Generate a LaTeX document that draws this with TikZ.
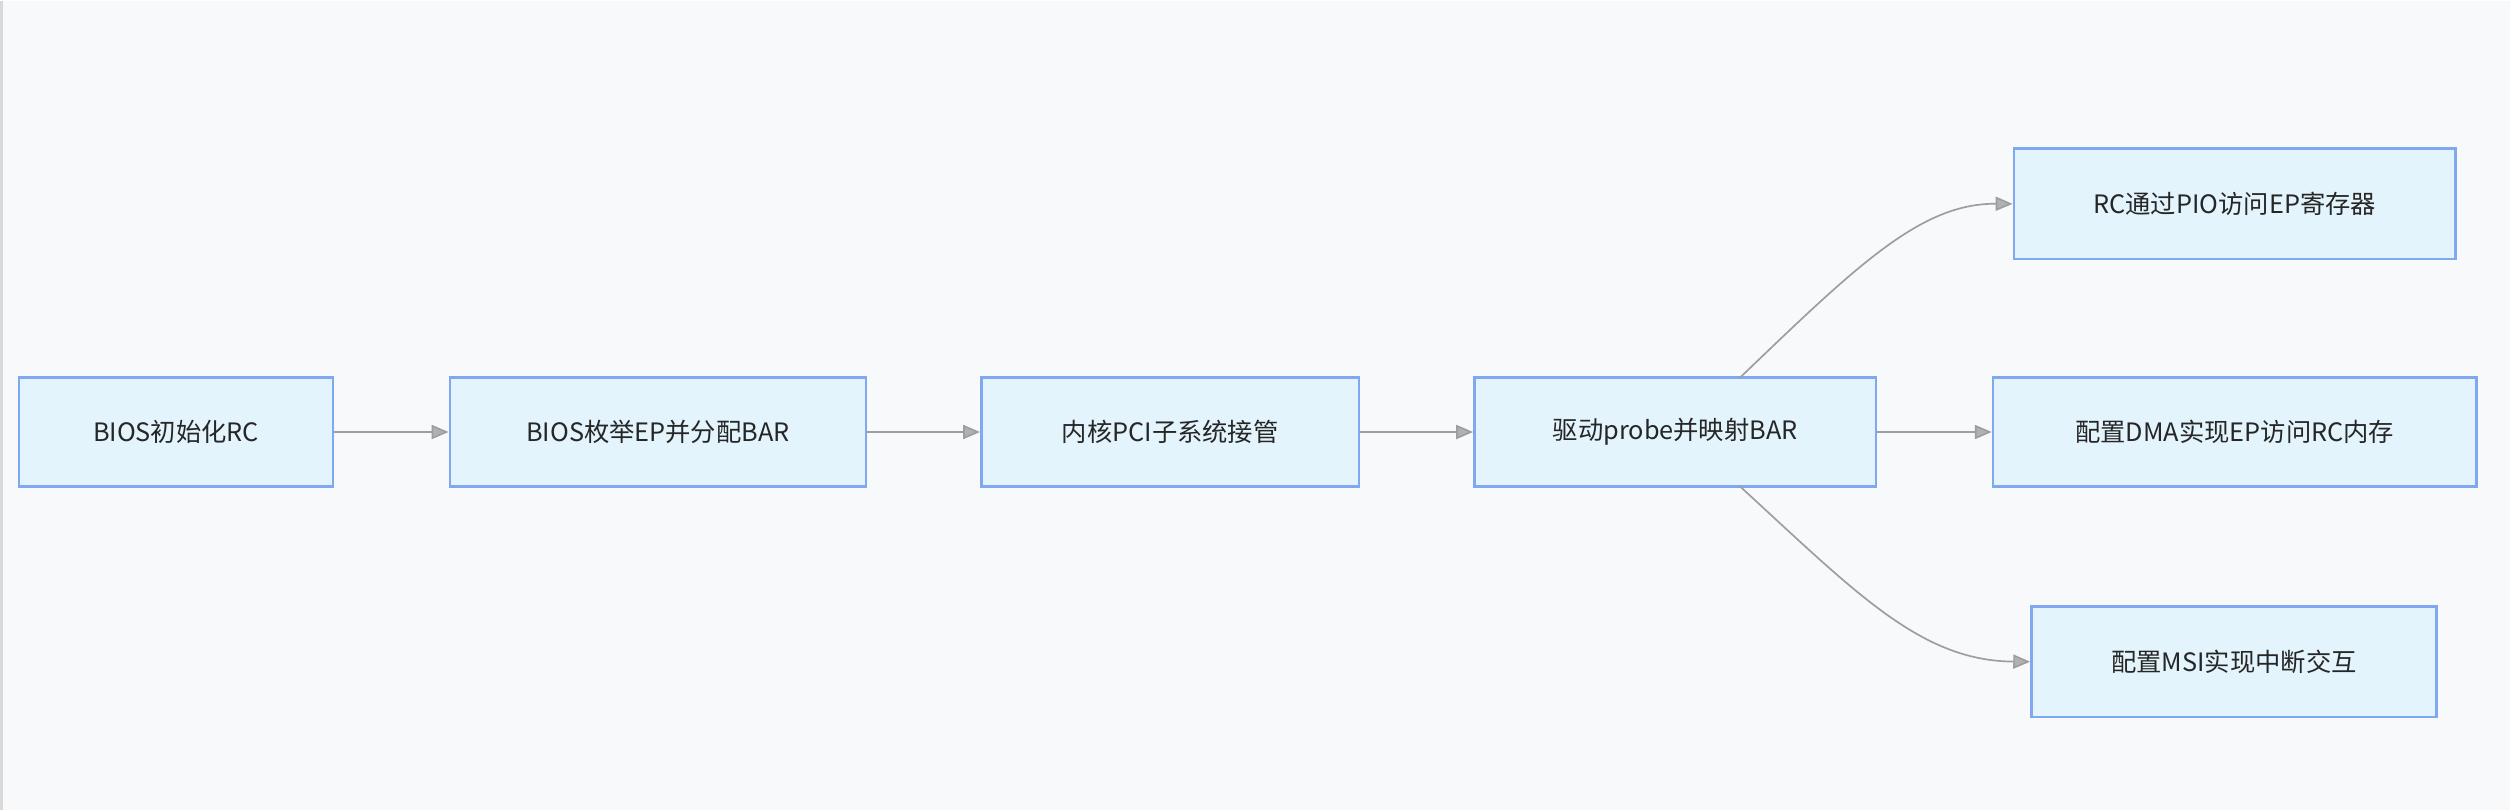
\documentclass[tikz,border=0pt]{standalone}
\usepackage{fontspec}
\setmainfont{Noto Sans CJK SC}
\usetikzlibrary{arrows.meta}
\definecolor{bg}{HTML}{F8F9FB}
\definecolor{bx}{HTML}{E3F4FD}
\definecolor{bd}{HTML}{7FA8F0}
\definecolor{ln}{HTML}{9E9E9E}
\begin{document}
\begin{tikzpicture}[x=0.02cm,y=-0.02cm,
  box/.style={draw=bd,fill=bx,line width=0.9pt,inner sep=0pt,font=\fontsize{9}{11}\selectfont,text=black!85},
  con/.style={draw=ln,line width=0.6pt,-{Triangle[length=6pt,width=5pt,fill=ln!80]}}]
\fill[bg] (0,0) rectangle (1568,505);
\draw[black!15,line width=1pt] (1,0) -- (1,505);
\useasboundingbox (0,0) rectangle (1568,505);
\node[box,minimum width=196*0.02cm,minimum height=68*0.02cm] (a) at (110,269) {BIOS初始化RC};
\node[box,minimum width=260*0.02cm,minimum height=68*0.02cm] (b) at (411,269) {BIOS枚举EP并分配BAR};
\node[box,minimum width=236*0.02cm,minimum height=68*0.02cm] (c) at (731,269) {内核PCI子系统接管};
\node[box,minimum width=251*0.02cm,minimum height=68*0.02cm] (d) at (1046.5,269) {驱动probe并映射BAR};
\node[box,minimum width=276*0.02cm,minimum height=69*0.02cm] (e) at (1396,126.5) {RC通过PIO访问EP寄存器};
\node[box,minimum width=302*0.02cm,minimum height=68*0.02cm] (f) at (1396,269) {配置DMA实现EP访问RC内存};
\node[box,minimum width=253*0.02cm,minimum height=69*0.02cm] (g) at (1395.5,412.5) {配置MSI实现中断交互};
\draw[con] (a) -- (b);
\draw[con] (b) -- (c);
\draw[con] (c) -- (d);
\draw[con] (d) -- (f);
\coordinate (d1) at (1087,235);
\coordinate (d2) at (1087,303);
\draw[con] (d1) .. controls (1160,165) and (1200,126) .. (e.west);
\draw[con] (d2) .. controls (1160,370) and (1200,412) .. (g.west);
\end{tikzpicture}
\end{document}
